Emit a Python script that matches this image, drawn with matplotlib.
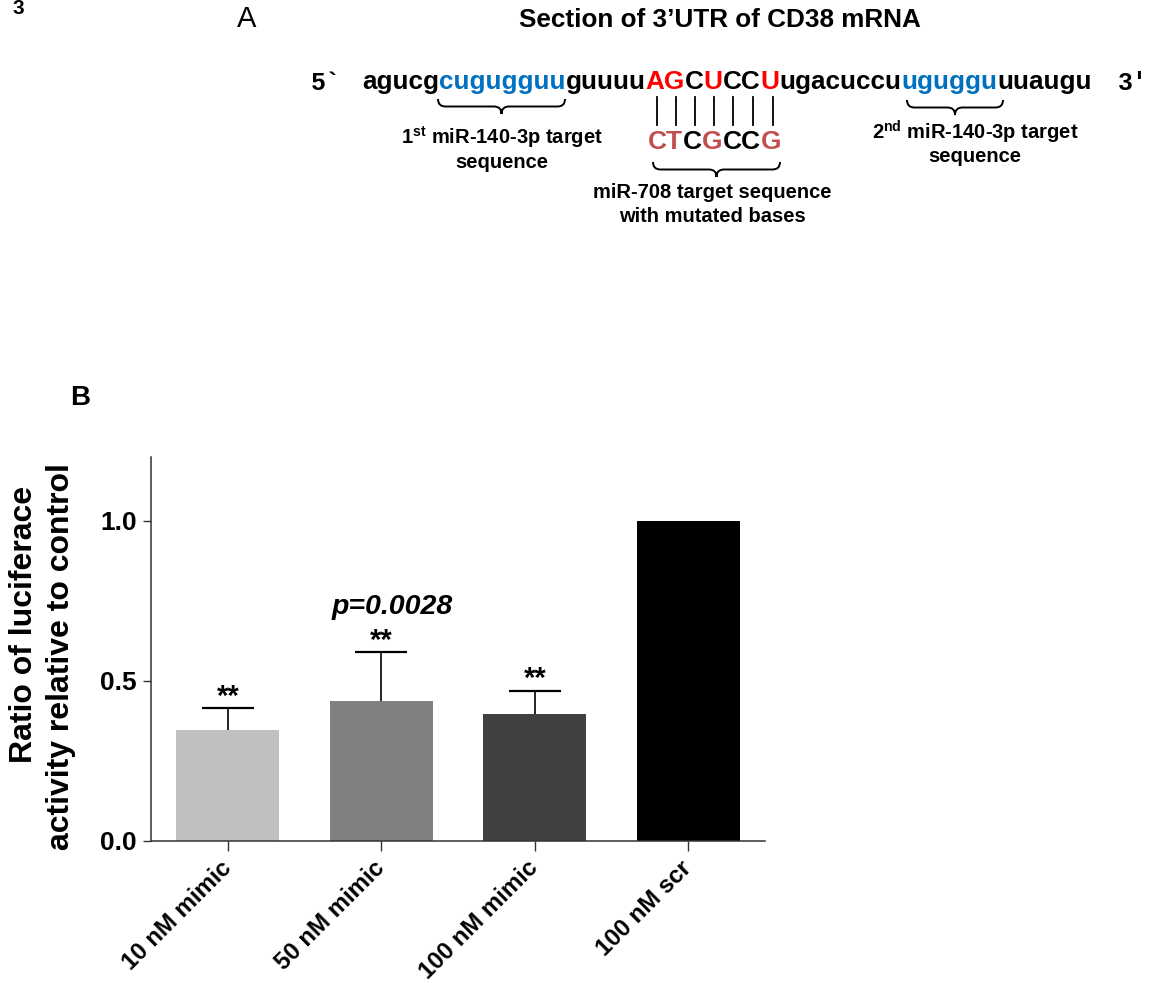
#!/usr/bin/env python3
"""Figure 3: CD38 3'UTR schematic (A) and luciferase reporter assay (B)."""
import matplotlib

matplotlib.use("Agg")
import matplotlib.pyplot as plt
from matplotlib.path import Path
from matplotlib.patches import PathPatch
from matplotlib.offsetbox import TextArea, HPacker, AnnotationBbox

plt.rcParams["font.family"] = ["Liberation Sans", "DejaVu Sans"]
plt.rcParams["mathtext.fontset"] = "custom"
plt.rcParams["mathtext.rm"] = "Liberation Sans:bold"
plt.rcParams["mathtext.bf"] = "Liberation Sans:bold"

# ---- panel B data ----
GROUPS = ["10 nM mimic", "50 nM mimic", "100 nM mimic", "100 nM scr"]
MEANS = [0.346, 0.439, 0.398, 1.0]
SEM = [0.069, 0.151, 0.072, 0.0]
BAR_COLORS = ["#c0c0c0", "#808080", "#404040", "#000000"]
STARS = ["**", "**", "**", ""]
P_TEXT = "p=0.0028"

# ---- panel A sequence pieces (text, colour) ----
BLACK, BLUE, RED = "#000000", "#0070c0", "#ff0000"
MUT = "#c0504d"
SEQ = [
    ("agucg", BLACK), ("cugugguu", BLUE), ("guuuu", BLACK),
    ("AG", RED), ("C", BLACK), ("U", RED), ("CC", BLACK), ("U", RED),
    ("ugacuccu", BLACK), ("uguggu", BLUE), ("uuaugu", BLACK),
]
MUT_SEQ = [("CT", MUT), ("C", BLACK), ("G", MUT), ("CC", BLACK), ("G", MUT)]

W, H = 1158, 983
fig = plt.figure(figsize=(W / 100, H / 100), dpi=100)

# overlay axes in pixel units for the schematic
ov = fig.add_axes([0, 0, 1, 1])
ov.set_xlim(0, W)
ov.set_ylim(H, 0)
ov.axis("off")


def brace(ax, x0, x1, y, r):
    xm = (x0 + x1) / 2
    verts = [(x0, y), (x0, y + r), (x0 + r, y + r), (xm - r, y + r),
             (xm, y + r), (xm, y + 2 * r), (xm, y + r), (xm + r, y + r),
             (x1 - r, y + r), (x1, y + r), (x1, y)]
    codes = [Path.MOVETO, Path.CURVE3, Path.CURVE3, Path.LINETO,
             Path.CURVE3, Path.CURVE3, Path.CURVE3, Path.CURVE3,
             Path.LINETO, Path.CURVE3, Path.CURVE3]
    ax.add_patch(PathPatch(Path(verts, codes), fill=False, lw=1.4, color="black"))


def colored_row(ax, pieces, x, y, size):
    boxes = [TextArea(s, textprops=dict(color=c, fontsize=size, fontweight="bold"))
             for s, c in pieces]
    pack = HPacker(children=boxes, align="baseline", pad=0, sep=0)
    ab = AnnotationBbox(pack, (x, y), xycoords="data", box_alignment=(0, 0.5),
                        frameon=False, pad=0)
    ax.add_artist(ab)


ov.text(18, 9, "3", fontsize=15, fontweight="bold", ha="center", va="center")
ov.text(247, 19, "A", fontsize=21, ha="center", va="center")
ov.text(720, 20, "Section of 3\u2019UTR of CD38 mRNA", fontsize=18.8,
        fontweight="bold", ha="center", va="center")

ov.text(326, 83, "5`", fontsize=18, fontweight="bold", family="Liberation Mono",
        ha="center", va="center")
ov.text(1133, 83, "3\u2032", fontsize=18, fontweight="bold", family="Liberation Mono",
        ha="center", va="center")
colored_row(ov, SEQ, 362, 82, 18.8)

for xv in [657, 676, 695, 714, 733, 753, 773]:
    ov.plot([xv, xv], [97, 125], color="black", lw=1.3)
colored_row(ov, MUT_SEQ, 648, 142, 19)

brace(ov, 438, 565, 99, 7.5)
brace(ov, 653, 780, 162, 7.5)
brace(ov, 907, 1003, 100, 7.5)

lab = dict(fontsize=14.5, fontweight="bold", ha="center", va="center")
ov.text(502, 137, r"1$^{\mathbf{st}}$ miR-140-3p target", **lab)
ov.text(502, 162, "sequence", **lab)
ov.text(975, 132, r"2$^{\mathbf{nd}}$ miR-140-3p target", **lab)
ov.text(975, 157, "sequence", **lab)
ov.text(712, 193, "miR-708 target sequence", **lab)
ov.text(712, 217, "with mutated bases", **lab)

ov.text(80, 398, "B", fontsize=20, fontweight="bold", ha="center", va="center")

# ---- panel B bar chart ----
ax = fig.add_axes([151 / W, 142 / H, (765 - 151) / W, (841 - 457) / H])
x = list(range(len(GROUPS)))
ax.bar(x, MEANS, width=0.67, color=BAR_COLORS, zorder=2)
ex = [i for i in x if SEM[i] > 0]
ax.errorbar(ex, [MEANS[i] for i in ex], yerr=[SEM[i] for i in ex], fmt="none",
            ecolor="black", elinewidth=1.2, capsize=18.5, capthick=1.6, zorder=1)
for i in ex:
    top = MEANS[i] + SEM[i]
    ax.annotate(STARS[i], (i, top), xytext=(0, -2), textcoords="offset points",
                ha="center", va="bottom", fontsize=21, fontweight="bold")
ax.annotate(P_TEXT, (1, MEANS[1] + SEM[1]), xytext=(8, 23), textcoords="offset points",
            ha="center", va="bottom", fontsize=20.5, fontweight="bold", style="italic")

ax.set_xlim(-0.5, 3.5)
ax.set_ylim(0, 1.2)
ax.set_yticks([0, 0.5, 1.0])
ax.set_yticklabels(["0.0", "0.5", "1.0"])
ax.set_xticks(x)
ax.set_xticklabels(GROUPS, rotation=45, ha="right", va="center", rotation_mode="anchor")
for lbl in ax.get_xticklabels():
    lbl.set_fontsize(17.3)
    lbl.set_fontweight("bold")
for lbl in ax.get_yticklabels():
    lbl.set_fontsize(19)
    lbl.set_fontweight("bold")
ax.tick_params(axis="y", length=6, width=1, color="#333333", pad=4)
ax.tick_params(axis="x", length=7, width=1, color="#333333", pad=10)
for side in ["top", "right"]:
    ax.spines[side].set_visible(False)
for side in ["left", "bottom"]:
    ax.spines[side].set_linewidth(1.1)
    ax.spines[side].set_color("#333333")

fig.text(24 / W, 1 - 624 / H, "Ratio of luciferace", rotation=90, fontsize=23,
         fontweight="bold", ha="center", va="center")
fig.text(61 / W, 1 - 657 / H, "activity relative to control", rotation=90,
         fontsize=23, fontweight="bold", ha="center", va="center")

fig.savefig("out.png", dpi=100)
